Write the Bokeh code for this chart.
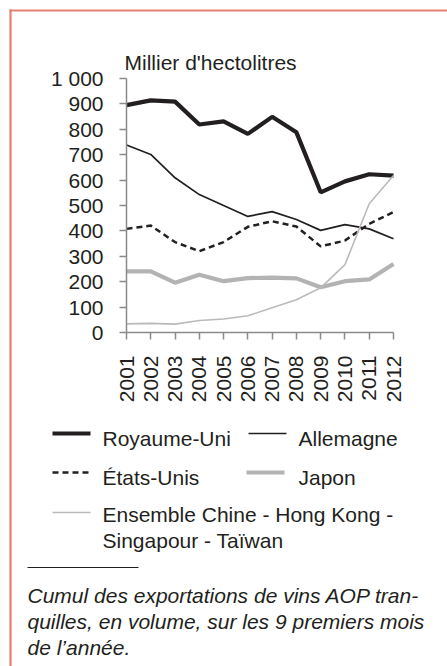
from bokeh.plotting import figure
from bokeh.models import Label, LinearAxis, Range1d, FixedTicker
from bokeh.embed import file_html
from bokeh.resources import INLINE
import math

# ---- data ----
years = list(range(2001, 2013))
royaume_uni = [895, 914, 909, 819, 831, 782, 849, 788, 552, 595, 623, 618]
allemagne = [738, 701, 609, 543, 500, 457, 476, 445, 402, 425, 408, 369]
etats_unis = [408, 421, 356, 320, 356, 416, 438, 417, 339, 362, 428, 474]
japon = [241, 241, 196, 227, 202, 214, 216, 213, 178, 202, 209, 270]
chine = [34, 36, 33, 47, 53, 66, 97, 129, 176, 267, 507, 618]

y_ticks = list(range(0, 1001, 100))
title_text = "Millier d'hectolitres"
series_names = ["Royaume-Uni", "Allemagne", "\u00c9tats-Unis", "Japon",
                "Ensemble Chine - Hong Kong -"]
series_name_2nd_line = "Singapour - Ta\u00efwan"
footnote = ["Cumul des exportations de vins AOP tran-",
            "quilles, en volume, sur les 9 premiers mois",
            "de l\u2019ann\u00e9e."]

# ---- layout (canvas pixels) ----
FONT = "Liberation Sans"
TXT = "#231f20"
AXC = "#8a8a8a"
W, H = 447, 666
OX, OY = 0, 0


def cy(img_y):           # image y (from top) -> canvas y (from bottom)
    return H - (img_y - OY)


def cx(img_x):
    return img_x - OX


# chart frame in canvas coordinates
X0, X1 = cx(126), cx(393)       # 2001 .. 2012
Y0, Y1 = cy(332), cy(78)        # 0 .. 1000
XMIN, XMAX = years[0], years[-1]
YMIN, YMAX = 0, 1000
sx = (XMAX - XMIN) / (X1 - X0)
sy = (YMAX - YMIN) / (Y1 - Y0)

p = figure(width=W, height=H, output_backend="svg", toolbar_location=None,
           x_range=Range1d(0, W), y_range=Range1d(0, H),
           min_border=0)
p.xaxis.visible = False
p.yaxis.visible = False
p.outline_line_color = None
p.grid.visible = False
p.background_fill_color = "white"
p.border_fill_color = "white"
p.extra_x_ranges = {"yr": Range1d(XMIN - X0 * sx, XMAX + (W - X1) * sx)}
p.extra_y_ranges = {"val": Range1d(YMIN - Y0 * sy, YMAX + (H - Y1) * sy)}

kw = dict(x_range_name="yr", y_range_name="val")
styles = [
    dict(line_color="#231f20", line_width=4.2),
    dict(line_color="#231f20", line_width=1.7),
    dict(line_color="#231f20", line_width=2.5, line_dash="6 4"),
    dict(line_color="#b3b3b3", line_width=4.2),
    dict(line_color="#bababa", line_width=1.6),
]
for vals, st in zip([royaume_uni, allemagne, etats_unis, japon, chine], styles):
    p.line(years, vals, **st, **kw)

# axes
yax = LinearAxis(x_range_name="yr", y_range_name="val", fixed_location=XMIN,
                 bounds=(YMIN, YMAX), ticker=FixedTicker(ticks=y_ticks))
yax.major_label_overrides = {1000: "1 000"}
xax = LinearAxis(x_range_name="yr", y_range_name="val", fixed_location=YMIN,
                 bounds=(XMIN, XMAX), ticker=FixedTicker(ticks=years))
xax.major_label_orientation = math.pi / 2
for ax in (xax, yax):
    ax.axis_line_color = AXC
    ax.axis_line_width = 1.5
    ax.major_tick_line_color = AXC
    ax.major_tick_line_width = 1.5
    ax.major_tick_out = 7
    ax.major_tick_in = 0
    ax.minor_tick_line_color = None
    ax.major_label_text_font = FONT
    ax.major_label_text_font_size = "21px"
    ax.major_label_text_color = TXT
    ax.major_label_standoff = 16
p.add_layout(yax, "left")
p.add_layout(xax, "below")


def label(x, y, t, size="21px", style="normal"):
    p.add_layout(Label(x=cx(x), y=cy(y), text=t, text_font=FONT,
                       text_font_size=size, text_font_style=style,
                       text_color=TXT, text_baseline="alphabetic"))


# title
label(124, 62, title_text)

# legend
leg_pos = [(52, 433, 102, 438), (248, 433, 298, 438),
           (52, 472, 102, 477), (246, 472, 298, 477),
           (52, 512, 102, 514)]
for name, st, (lx, ly, tx, ty) in zip(series_names, styles, leg_pos):
    p.line([cx(lx), cx(lx + 38)], [cy(ly), cy(ly)], **st)
    label(tx, ty, name)
label(102, 540, series_name_2nd_line)

# separator + footnote
p.line([cx(27), cx(138)], [cy(567), cy(567)], line_color=TXT, line_width=1)
for i, t in enumerate(footnote):
    label(27, 595 + 26 * i, t, style="italic")

# page frame (top & left)
BORDER = "#e3806f"
p.line([cx(9), W], [cy(10), cy(10)], line_color=BORDER, line_width=2.2)
p.line([cx(10), cx(10)], [cy(9), 0], line_color=BORDER, line_width=2.2)

open("out.html", "w").write(file_html(p, INLINE))
